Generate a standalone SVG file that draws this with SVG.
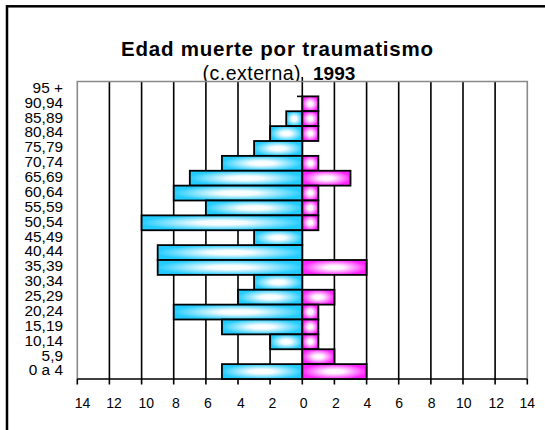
<svg xmlns="http://www.w3.org/2000/svg" width="545" height="430" viewBox="0 0 545 430">
<defs>
<radialGradient id="gb" cx="0.5" cy="0.5" r="0.6">
<stop offset="0" stop-color="#ffffff"/>
<stop offset="0.25" stop-color="#f4fcff"/>
<stop offset="0.85" stop-color="#22ccff"/>
</radialGradient>
<radialGradient id="gp" cx="0.5" cy="0.5" r="0.6">
<stop offset="0" stop-color="#ffffff"/>
<stop offset="0.25" stop-color="#fff0ff"/>
<stop offset="0.85" stop-color="#ff22ff"/>
</radialGradient>
<style>
.grid{stroke:#000;stroke-width:1.6;fill:none}
.bord{stroke:#8a8a8a;stroke-width:1.6;fill:none}
.l{fill:url(#gb);stroke:#000;stroke-width:1.8}
.r{fill:url(#gp);stroke:#000;stroke-width:1.8}
.yl{font-family:"Liberation Sans",Arial,sans-serif;font-size:15.4px;fill:#000;text-anchor:end}
.xl{font-family:"Liberation Sans",Arial,sans-serif;font-size:14px;fill:#000;text-anchor:middle}
.t{font-family:"Liberation Sans",Arial,sans-serif;fill:#000}
</style>
</defs>
<rect x="0" y="0" width="545" height="430" fill="#fff"/>
<rect x="7" y="6.3" width="600" height="500" fill="#fff" stroke="#000" stroke-width="2.5"/>
<g id="title">
<text class="t" x="121" y="56" font-size="20.5" font-weight="bold" textLength="312" lengthAdjust="spacing">Edad muerte por traumatismo</text>
<text class="t" x="202.6" y="79.5" font-size="19.5" textLength="98" lengthAdjust="spacing">(c.externa)</text>
<text class="t" x="313" y="79.5" font-size="19" font-weight="bold">1993</text>
</g>
<g id="plot">
<rect x="77.3" y="81.5" width="450" height="297.5" fill="#fff"/>
<g id="gridlines">
<path class="grid" d="M109.4 81.5V379M141.6 81.5V379M173.7 81.5V379M205.9 81.5V379M238 81.5V379M270.1 81.5V379M302.3 77V379M334.4 81.5V379M366.6 81.5V379M398.7 81.5V379M430.9 81.5V379M463 81.5V379M495.1 81.5V379"/>
<path class="bord" d="M77.3 379V81.5H527.3V379"/>
<path class="grid" d="M77.3 379H527.3M77.3 379v5.5M109.4 379v5.5M141.6 379v5.5M173.7 379v5.5M205.9 379v5.5M238 379v5.5M270.1 379v5.5M302.3 379v5.5M334.4 379v5.5M366.6 379v5.5M398.7 379v5.5M430.9 379v5.5M463 379v5.5M495.1 379v5.5M527.3 379v5.5"/>
<path class="grid" d="M297 96.4H302.3"/>
</g>
</g>
<g id="bars">
<g id="r90"><rect class="r" x="302.3" y="96.375" width="16.07" height="14.875"/></g>
<g id="r85"><rect class="l" x="286.23" y="111.25" width="16.07" height="14.875"/><rect class="r" x="302.3" y="111.25" width="16.07" height="14.875"/></g>
<g id="r80"><rect class="l" x="270.16" y="126.125" width="32.14" height="14.875"/><rect class="r" x="302.3" y="126.125" width="16.07" height="14.875"/></g>
<g id="r75"><rect class="l" x="254.09" y="141" width="48.21" height="14.875"/></g>
<g id="r70"><rect class="l" x="221.95" y="155.875" width="80.35" height="14.875"/><rect class="r" x="302.3" y="155.875" width="16.07" height="14.875"/></g>
<g id="r65"><rect class="l" x="189.81" y="170.75" width="112.49" height="14.875"/><rect class="r" x="302.3" y="170.75" width="48.21" height="14.875"/></g>
<g id="r60"><rect class="l" x="173.74" y="185.625" width="128.56" height="14.875"/><rect class="r" x="302.3" y="185.625" width="16.07" height="14.875"/></g>
<g id="r55"><rect class="l" x="205.88" y="200.5" width="96.42" height="14.875"/><rect class="r" x="302.3" y="200.5" width="16.07" height="14.875"/></g>
<g id="r50"><rect class="l" x="141.6" y="215.375" width="160.7" height="14.875"/><rect class="r" x="302.3" y="215.375" width="16.07" height="14.875"/></g>
<g id="r45"><rect class="l" x="254.09" y="230.25" width="48.21" height="14.875"/></g>
<g id="r40"><rect class="l" x="157.67" y="245.125" width="144.63" height="14.875"/></g>
<g id="r35"><rect class="l" x="157.67" y="260" width="144.63" height="14.875"/><rect class="r" x="302.3" y="260" width="64.28" height="14.875"/></g>
<g id="r30"><rect class="l" x="254.09" y="274.875" width="48.21" height="14.875"/></g>
<g id="r25"><rect class="l" x="238.02" y="289.75" width="64.28" height="14.875"/><rect class="r" x="302.3" y="289.75" width="32.14" height="14.875"/></g>
<g id="r20"><rect class="l" x="173.74" y="304.625" width="128.56" height="14.875"/><rect class="r" x="302.3" y="304.625" width="16.07" height="14.875"/></g>
<g id="r15"><rect class="l" x="221.95" y="319.5" width="80.35" height="14.875"/><rect class="r" x="302.3" y="319.5" width="16.07" height="14.875"/></g>
<g id="r10"><rect class="l" x="270.16" y="334.375" width="32.14" height="14.875"/><rect class="r" x="302.3" y="334.375" width="16.07" height="14.875"/></g>
<g id="r5"><rect class="r" x="302.3" y="349.25" width="32.14" height="14.875"/></g>
<g id="r0"><rect class="l" x="221.95" y="364.125" width="80.35" height="14.875"/><rect class="r" x="302.3" y="364.125" width="64.28" height="14.875"/></g>
</g>
<g id="ylabels">
<text class="yl" x="63" y="92.7">95 +</text>
<text class="yl" x="63" y="107.6">90,94</text>
<text class="yl" x="63" y="122.5">85,89</text>
<text class="yl" x="63" y="137.3">80,84</text>
<text class="yl" x="63" y="152.2">75,79</text>
<text class="yl" x="63" y="167.1">70,74</text>
<text class="yl" x="63" y="182">65,69</text>
<text class="yl" x="63" y="196.8">60,64</text>
<text class="yl" x="63" y="211.7">55,59</text>
<text class="yl" x="63" y="226.6">50,54</text>
<text class="yl" x="63" y="241.5">45,49</text>
<text class="yl" x="63" y="256.3">40,44</text>
<text class="yl" x="63" y="271.2">35,39</text>
<text class="yl" x="63" y="286.1">30,34</text>
<text class="yl" x="63" y="301">25,29</text>
<text class="yl" x="63" y="315.8">20,24</text>
<text class="yl" x="63" y="330.7">15,19</text>
<text class="yl" x="63" y="345.6">10,14</text>
<text class="yl" x="63" y="360.5">5,9</text>
<text class="yl" x="63" y="375.3">0 a 4</text>
</g>
<g id="xlabels">
<text class="xl" x="82.5" y="408.3">14</text>
<text class="xl" x="114" y="408.3">12</text>
<text class="xl" x="146.3" y="408.3">10</text>
<text class="xl" x="175.8" y="408.3">8</text>
<text class="xl" x="208" y="408.3">6</text>
<text class="xl" x="240.8" y="408.3">4</text>
<text class="xl" x="272.5" y="408.3">2</text>
<text class="xl" x="303.7" y="408.3">0</text>
<text class="xl" x="335.8" y="408.3">2</text>
<text class="xl" x="367.5" y="408.3">4</text>
<text class="xl" x="399.2" y="408.3">6</text>
<text class="xl" x="431.7" y="408.3">8</text>
<text class="xl" x="463.7" y="408.3">10</text>
<text class="xl" x="496.3" y="408.3">12</text>
<text class="xl" x="527.3" y="408.3">14</text>
</g>
</svg>
